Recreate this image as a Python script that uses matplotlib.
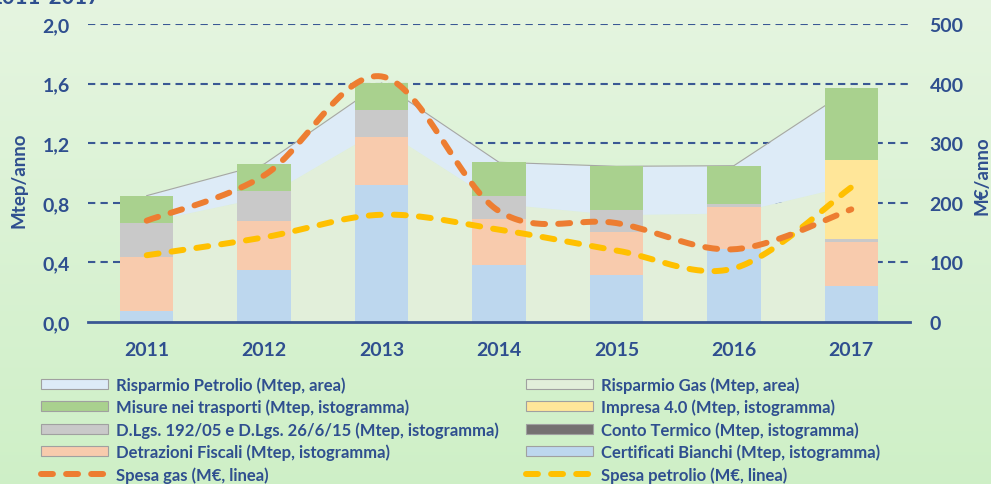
import numpy as np
import matplotlib.pyplot as plt
from matplotlib.patches import Patch
from matplotlib.lines import Line2D

# ------------------------
# Data
# ------------------------
years = ['2011', '2012', '2013', '2014', '2015', '2016', '2017']

# stacked bars, Mtep
cert_bianchi = [0.076, 0.349, 0.919, 0.385, 0.315, 0.490, 0.244]
detrazioni = [0.362, 0.331, 0.325, 0.304, 0.291, 0.282, 0.291]
dlgs = [0.226, 0.197, 0.179, 0.155, 0.146, 0.018, 0.022]
conto_termico = [0.0, 0.0, 0.0, 0.0, 0.0, 0.0, 0.0]
impresa_40 = [0.0, 0.0, 0.0, 0.0, 0.0, 0.0, 0.530]
trasporti = [0.184, 0.183, 0.181, 0.228, 0.293, 0.259, 0.481]

# stacked areas, Mtep
risp_gas = [0.673, 0.840, 1.300, 0.795, 0.720, 0.732, 0.920]
risp_petrolio = [0.175, 0.220, 0.304, 0.277, 0.325, 0.317, 0.648]

# lines, M€
spesa_gas = [170, 246, 412, 186, 166, 122, 189]
spesa_petrolio = [112, 142, 180, 155, 120, 90, 226]

left_ticks = [0.0, 0.4, 0.8, 1.2, 1.6, 2.0]
right_ticks = [0, 100, 200, 300, 400, 500]

# ------------------------
# Style
# ------------------------
TXT = '#2F4F8F'
GRID = '#3A5894'
FONT = 'Lato'
plt.rcParams['font.family'] = [FONT, 'DejaVu Sans']
plt.rcParams['font.weight'] = 'bold'

C_CB = '#BDD7EE'
C_DF = '#F8CBAD'
C_DL = '#C9C9C9'
C_CT = '#757171'
C_IM = '#FFE699'
C_TR = '#A9D18E'
C_GAS = '#E2EFDA'
C_PET = '#DDEBF7'
C_LGAS = '#ED7D31'
C_LPET = '#FFC000'


def smooth(xs, ys, n=40):
    # bezier smoothing through every point (catmull-rom style control points)
    pts = np.column_stack([xs, ys]).astype(float)
    out = []
    for i in range(len(pts) - 1):
        p0 = pts[i - 1] if i > 0 else pts[i]
        p1, p2 = pts[i], pts[i + 1]
        p3 = pts[i + 2] if i + 2 < len(pts) else pts[i + 1]
        c1 = p1 + (p2 - p0) / 6
        c2 = p2 - (p3 - p1) / 6
        t = np.linspace(0, 1, n)[:, None]
        seg = (1 - t) ** 3 * p1 + 3 * (1 - t) ** 2 * t * c1 + 3 * (1 - t) * t ** 2 * c2 + t ** 3 * p2
        out.append(seg if i == 0 else seg[1:])
    out = np.vstack(out)
    return out[:, 0], out[:, 1]


fig = plt.figure(figsize=(9.91, 4.85), dpi=100)

# background gradient
bg = fig.add_axes([0, 0, 1, 1], zorder=-10)
top = np.array([0.90, 0.96, 0.88])
bot = np.array([0.81, 0.94, 0.78])
grad = np.linspace(0, 1, 256)[:, None, None] * (bot - top) + top
bg.imshow(np.repeat(grad, 2, axis=1), aspect='auto', extent=[0, 1, 0, 1])
bg.axis('off')

ax = fig.add_axes([88 / 991, 162 / 485, 822 / 991, 298 / 485])
ax.patch.set_alpha(0)
x = np.arange(len(years))

# dashed grid
for v in left_ticks[1:]:
    ax.axhline(v, color=GRID, lw=1.5, ls=(0, (3.5, 2.5)), zorder=0)

# areas
total = np.array(risp_gas) + np.array(risp_petrolio)
ax.fill_between(x, 0, risp_gas, color=C_GAS, lw=0, zorder=1)
ax.fill_between(x, risp_gas, total, color=C_PET, lw=0, zorder=1)
ax.plot(x, total, color='#A6A6A6', lw=0.8, zorder=1.5)

# stacked bars
w = 0.455
bottom = np.zeros(len(years))
for vals, col in [(cert_bianchi, C_CB), (detrazioni, C_DF), (dlgs, C_DL),
                  (conto_termico, C_CT), (impresa_40, C_IM), (trasporti, C_TR)]:
    ax.bar(x, vals, w, bottom=bottom, color=col, lw=0, zorder=2)
    bottom += np.array(vals)

ax.set_xlim(-0.5, 6.5)
ax.set_ylim(0, 2.0)
ax.set_yticks(left_ticks)
ax.set_yticklabels([f'{v:.1f}'.replace('.', ',') for v in left_ticks])
ax.set_xticks(x)
ax.set_xticklabels(years)
ax.tick_params(axis='y', length=0, pad=13, labelsize=14, labelcolor=TXT)
ax.tick_params(axis='x', length=0, pad=14, labelsize=14, labelcolor=TXT)
for s in ['top', 'right', 'left']:
    ax.spines[s].set_visible(False)
ax.spines['bottom'].set_color(GRID)
ax.spines['bottom'].set_linewidth(2)
ax.spines['bottom'].set_zorder(3)

# right axis with the lines
ax2 = ax.twinx()
ax2.set_ylim(0, 500)
ax2.set_yticks(right_ticks)
ax2.tick_params(axis='y', length=0, pad=14, labelsize=14, labelcolor=TXT)
for s in ['top', 'right', 'left', 'bottom']:
    ax2.spines[s].set_visible(False)

dash = (0, (2.0, 2.2))
gx, gy = smooth(x, spesa_gas)
px, py = smooth(x, spesa_petrolio)
ax2.plot(px, py, color=C_LPET, lw=4.3, ls=dash, dash_capstyle='round', zorder=4)
ax2.plot(gx, gy, color=C_LGAS, lw=4.3, ls=dash, dash_capstyle='round', zorder=5)

# axis titles
fig.text(19 / 991, 1 - 180 / 485, 'Mtep/anno', rotation=90, ha='center', va='center',
         fontsize=13.5, color=TXT)
fig.text(982 / 991, 1 - 176 / 485, 'M€/anno', rotation=90, ha='center', va='center',
         fontsize=13.5, color=TXT)

# title remnant at the top edge
fig.text(100 / 991, 1 - 4 / 485, '2011-2017', ha='right', va='baseline',
         fontsize=16, color=TXT, fontweight='bold')

# legends
edge = '#A0A0A0'
left_items = [
    (Patch(fc=C_PET, ec=edge, lw=0.8), 'Risparmio Petrolio (Mtep, area)'),
    (Patch(fc=C_TR, ec=edge, lw=0.8), 'Misure nei trasporti (Mtep, istogramma)'),
    (Patch(fc=C_DL, ec=edge, lw=0.8), 'D.Lgs. 192/05 e D.Lgs. 26/6/15 (Mtep, istogramma)'),
    (Patch(fc=C_DF, ec=edge, lw=0.8), 'Detrazioni Fiscali (Mtep, istogramma)'),
    (Line2D([], [], color=C_LGAS, lw=4.3, ls=dash, dash_capstyle='round'), 'Spesa gas (M€, linea)'),
]
right_items = [
    (Patch(fc=C_GAS, ec=edge, lw=0.8), 'Risparmio Gas (Mtep, area)'),
    (Patch(fc=C_IM, ec=edge, lw=0.8), 'Impresa 4.0 (Mtep, istogramma)'),
    (Patch(fc=C_CT, ec=edge, lw=0.8), 'Conto Termico (Mtep, istogramma)'),
    (Patch(fc=C_CB, ec=edge, lw=0.8), 'Certificati Bianchi (Mtep, istogramma)'),
    (Line2D([], [], color=C_LPET, lw=4.3, ls=dash, dash_capstyle='round'), 'Spesa petrolio (M€, linea)'),
]
for items, x0 in [(left_items, 41), (right_items, 526)]:
    leg = fig.legend([h for h, _ in items], [l for _, l in items], loc='upper left',
                     bbox_to_anchor=(x0 / 991, 1 - 377 / 485), frameon=False,
                     fontsize=12, handlelength=4.0, handleheight=0.55,
                     handletextpad=0.48, labelspacing=0.36, borderpad=0, borderaxespad=0)
    for t in leg.get_texts():
        t.set_color(TXT)

fig.savefig('out.png', dpi=100)
